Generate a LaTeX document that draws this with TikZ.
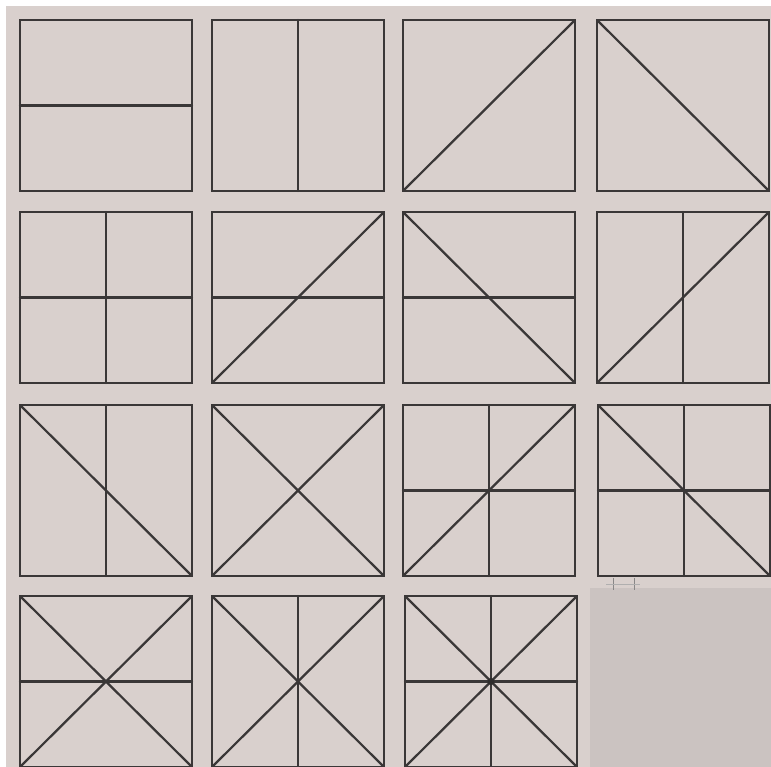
\documentclass[tikz,border=0pt]{standalone}
\usepackage{tikz}
\usetikzlibrary{calc}

\definecolor{paper}{RGB}{217,208,205}
\definecolor{patch}{RGB}{203,195,193}
\definecolor{ink}{RGB}{58,55,55}

% cell size (pixels of the plate)
\newcommand{\cw}{172}
\newcommand{\ch}{171}

% frame of one panel and its named points
\newcommand{\cellframe}{%
  \coordinate (nw) at (0,0);
  \coordinate (ne) at (\cw,0);
  \coordinate (se) at (\cw,-\ch);
  \coordinate (sw) at (0,-\ch);
  \coordinate (n) at ($(nw)!0.5!(ne)$);
  \coordinate (s) at ($(sw)!0.5!(se)$);
  \coordinate (w) at ($(nw)!0.5!(sw)$);
  \coordinate (e) at ($(ne)!0.5!(se)$);
  \coordinate (c) at ($(nw)!0.5!(se)$);
  \draw[frame] (nw) rectangle (se);}

\begin{document}
\begin{tikzpicture}[x=0.03cm, y=0.03cm,
  frame/.style={draw=ink, line width=2.1pt, line join=miter},
  stroke/.style={draw=ink, line width=1.9pt, line cap=round}]

% Background
\useasboundingbox (0,0) rectangle (771,-767);
\fill[white] (0,0) rectangle (771,-767);
\fill[paper] (6,-6) rectangle (771,-767);
\fill[patch] (590,-588) rectangle (771,-767);

% === ROW 1 ===
\begin{scope}[shift={(20,-20)}]
  \cellframe
  \draw[stroke] (w) -- (e);
\end{scope}
\begin{scope}[shift={(212,-20)}]
  \cellframe
  \draw[stroke] (n) -- (s);
\end{scope}
\begin{scope}[shift={(403,-20)}]
  \cellframe
  \draw[stroke] (sw) -- (ne);
\end{scope}
\begin{scope}[shift={(597,-20)}]
  \cellframe
  \draw[stroke] (nw) -- (se);
\end{scope}

% === ROW 2 ===
\begin{scope}[shift={(20,-212)}]
  \cellframe
  \draw[stroke] (w) -- (e);
  \draw[stroke] (n) -- (s);
\end{scope}
\begin{scope}[shift={(212,-212)}]
  \cellframe
  \draw[stroke] (w) -- (e);
  \draw[stroke] (sw) -- (ne);
\end{scope}
\begin{scope}[shift={(403,-212)}]
  \cellframe
  \draw[stroke] (w) -- (e);
  \draw[stroke] (nw) -- (se);
\end{scope}
\begin{scope}[shift={(597,-212)}]
  \cellframe
  \draw[stroke] (n) -- (s);
  \draw[stroke] (sw) -- (ne);
\end{scope}

% === ROW 3 ===
\begin{scope}[shift={(20,-405)}]
  \cellframe
  \draw[stroke] (n) -- (s);
  \draw[stroke] (nw) -- (se);
\end{scope}
\begin{scope}[shift={(212,-405)}]
  \cellframe
  \draw[stroke] (nw) -- (se);
  \draw[stroke] (sw) -- (ne);
\end{scope}
\begin{scope}[shift={(403,-405)}]
  \cellframe
  \draw[stroke] (w) -- (e);
  \draw[stroke] (n) -- (s);
  \draw[stroke] (sw) -- (ne);
\end{scope}
\begin{scope}[shift={(598,-405)}]
  \cellframe
  \draw[stroke] (w) -- (e);
  \draw[stroke] (n) -- (s);
  \draw[stroke] (nw) -- (se);
\end{scope}

% stray marks under the last panel
\draw[ink!60, line width=0.6pt] (613,-578) -- (613,-590);
\draw[ink!60, line width=0.6pt] (634,-578) -- (634,-590);
\draw[ink!40, line width=0.5pt] (606,-584) -- (640,-584);

% === ROW 4 ===
\begin{scope}[shift={(20,-596)}]
  \cellframe
  \draw[stroke] (w) -- (e);
  \draw[stroke] (nw) -- (se);
  \draw[stroke] (sw) -- (ne);
\end{scope}
\begin{scope}[shift={(212,-596)}]
  \cellframe
  \draw[stroke] (n) -- (s);
  \draw[stroke] (nw) -- (se);
  \draw[stroke] (sw) -- (ne);
\end{scope}
\begin{scope}[shift={(405,-596)}]
  \cellframe
  \draw[stroke] (w) -- (e);
  \draw[stroke] (n) -- (s);
  \draw[stroke] (nw) -- (se);
  \draw[stroke] (sw) -- (ne);
  \fill[ink!80!black] (c) circle (3.5);
\end{scope}

\end{tikzpicture}
\end{document}
